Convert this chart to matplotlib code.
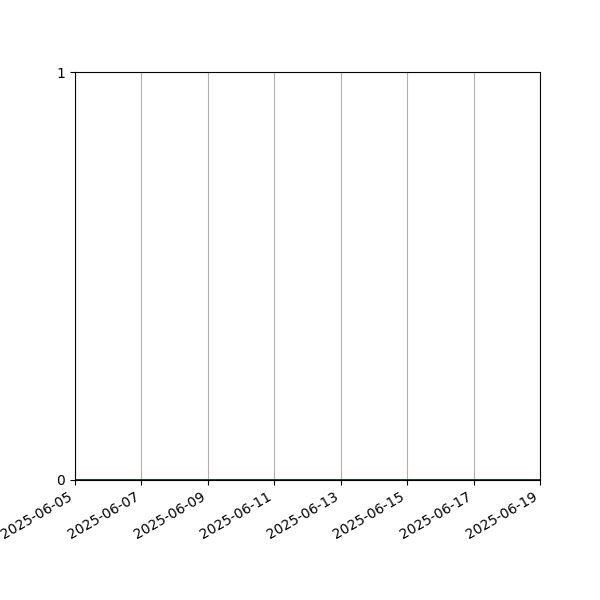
import matplotlib
matplotlib.use("Agg")
import matplotlib.pyplot as plt
import matplotlib.dates as mdates
import pandas as pd

dates = pd.date_range("2025-06-05", "2025-06-19", freq="D")
values = [0] * len(dates)
y_ticks = [0, 1]

fig, ax = plt.subplots(figsize=(6, 6), dpi=100)
ax.plot(dates, values, color="blue", linewidth=2)
ax.set_xlim(dates[0], dates[-1])
ax.set_ylim(0, 1)
ax.set_yticks(y_ticks)
ax.xaxis.set_major_locator(mdates.DayLocator(interval=2))
ax.xaxis.set_major_formatter(mdates.DateFormatter("%Y-%m-%d"))
ax.grid(axis="x", color="#b0b0b0")
fig.autofmt_xdate()
fig.savefig("out.png")
